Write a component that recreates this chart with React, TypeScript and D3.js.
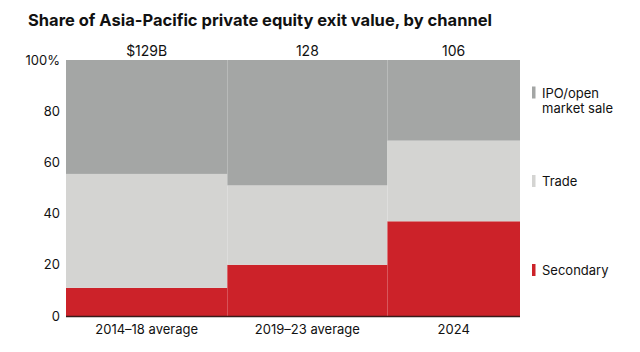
import React from "react";
import * as d3 from "d3";

const categories = ["2014–18 average", "2019–23 average", "2024"];
const totalLabels = ["$129B", "128", "106"];
const totals = [129, 128, 106];
const secondary = [11, 20, 37];
const trade = [44.5, 31, 31.5];
const ipo = [44.5, 49, 31.5];
const yTicks = [0, 20, 40, 60, 80, 100];
const seriesNames = ["Secondary", "Trade", "IPO/open market sale"];
const colors = ["#cc2229", "#d4d4d2", "#a4a6a5"];

const W = 640;
const H = 352;
const margin = { left: 66, right: 120, top: 60, bottom: 36 };
const font = "Inter, Roboto, 'Noto Sans', sans-serif";

export default function App() {
  const x0 = margin.left;
  const x1 = W - margin.right;
  const y0 = H - margin.bottom;
  const grand = d3.sum(totals);
  const x = d3.scaleLinear().domain([0, grand]).range([x0, x1]);
  const y = d3.scaleLinear().domain([0, 100]).range([y0, margin.top]);
  const cum = d3.cumsum(totals);
  const starts = totals.map((t, i) => cum[i] - t);
  const series = [secondary, trade, ipo];
  const stack = categories.map((_, i) => {
    let acc = 0;
    return series.map((s) => {
      const a = acc;
      acc += s[i];
      return [a, acc];
    });
  });

  const legendY = [
    { name: seriesNames[0], lines: ["Secondary"], yc: 270, color: colors[0] },
    { name: seriesNames[1], lines: ["Trade"], yc: 181, color: colors[1] },
    { name: seriesNames[2], lines: ["IPO/open", "market sale"], yc: 100, color: colors[2] },
  ];

  return (
    <svg
      width={W}
      height={H}
      style={{ position: "absolute", left: 0, top: 0, background: "#fff" }}
      fontFamily={font}
    >
      <text x={28} y={26} fontSize={16.5} fontWeight={700} fill="#111">
        Share of Asia-Pacific private equity exit value, by channel
      </text>
      {categories.map((c, i) => {
        const xl = x(starts[i]);
        const xr = x(cum[i]);
        return (
          <g key={c}>
            {stack[i].map(([a, b], j) => (
              <rect
                key={j}
                x={xl}
                y={y(b)}
                width={xr - xl}
                height={y(a) - y(b)}
                fill={colors[j]}
              />
            ))}
            <text
              x={(xl + xr) / 2}
              y={56}
              textAnchor="middle"
              fontSize={14}
              fill="#111"
            >
              {totalLabels[i]}
            </text>
            <text
              x={(xl + xr) / 2}
              y={334}
              textAnchor="middle"
              fontSize={13}
              fill="#111"
            >
              {c}
            </text>
          </g>
        );
      })}
      {cum.slice(0, -1).map((c, i) => (
        <line
          key={i}
          x1={x(c)}
          x2={x(c)}
          y1={y(100)}
          y2={y0}
          stroke="#fff"
          strokeWidth={2}
        />
      ))}
      <line x1={x0} x2={x1} y1={y0 + 0.5} y2={y0 + 0.5} stroke="#3a1a1a" strokeWidth={1.5} />
      {yTicks.map((t) => (
        <text
          key={t}
          x={60}
          y={y(t) + 4.5}
          textAnchor="end"
          fontSize={13}
          fill="#111"
        >
          {t === 100 ? "100%" : t}
        </text>
      ))}
      {legendY.map((l) => {
        const top = l.yc - (l.lines.length === 2 ? 7.5 : 0);
        return (
          <g key={l.name}>
            <rect x={532} y={top - 6} width={3.5} height={12} fill={l.color} />
            {l.lines.map((ln, k) => (
              <text key={k} x={542} y={top + 5 + k * 15} fontSize={13} fill="#111">
                {ln}
              </text>
            ))}
          </g>
        );
      })}
    </svg>
  );
}
